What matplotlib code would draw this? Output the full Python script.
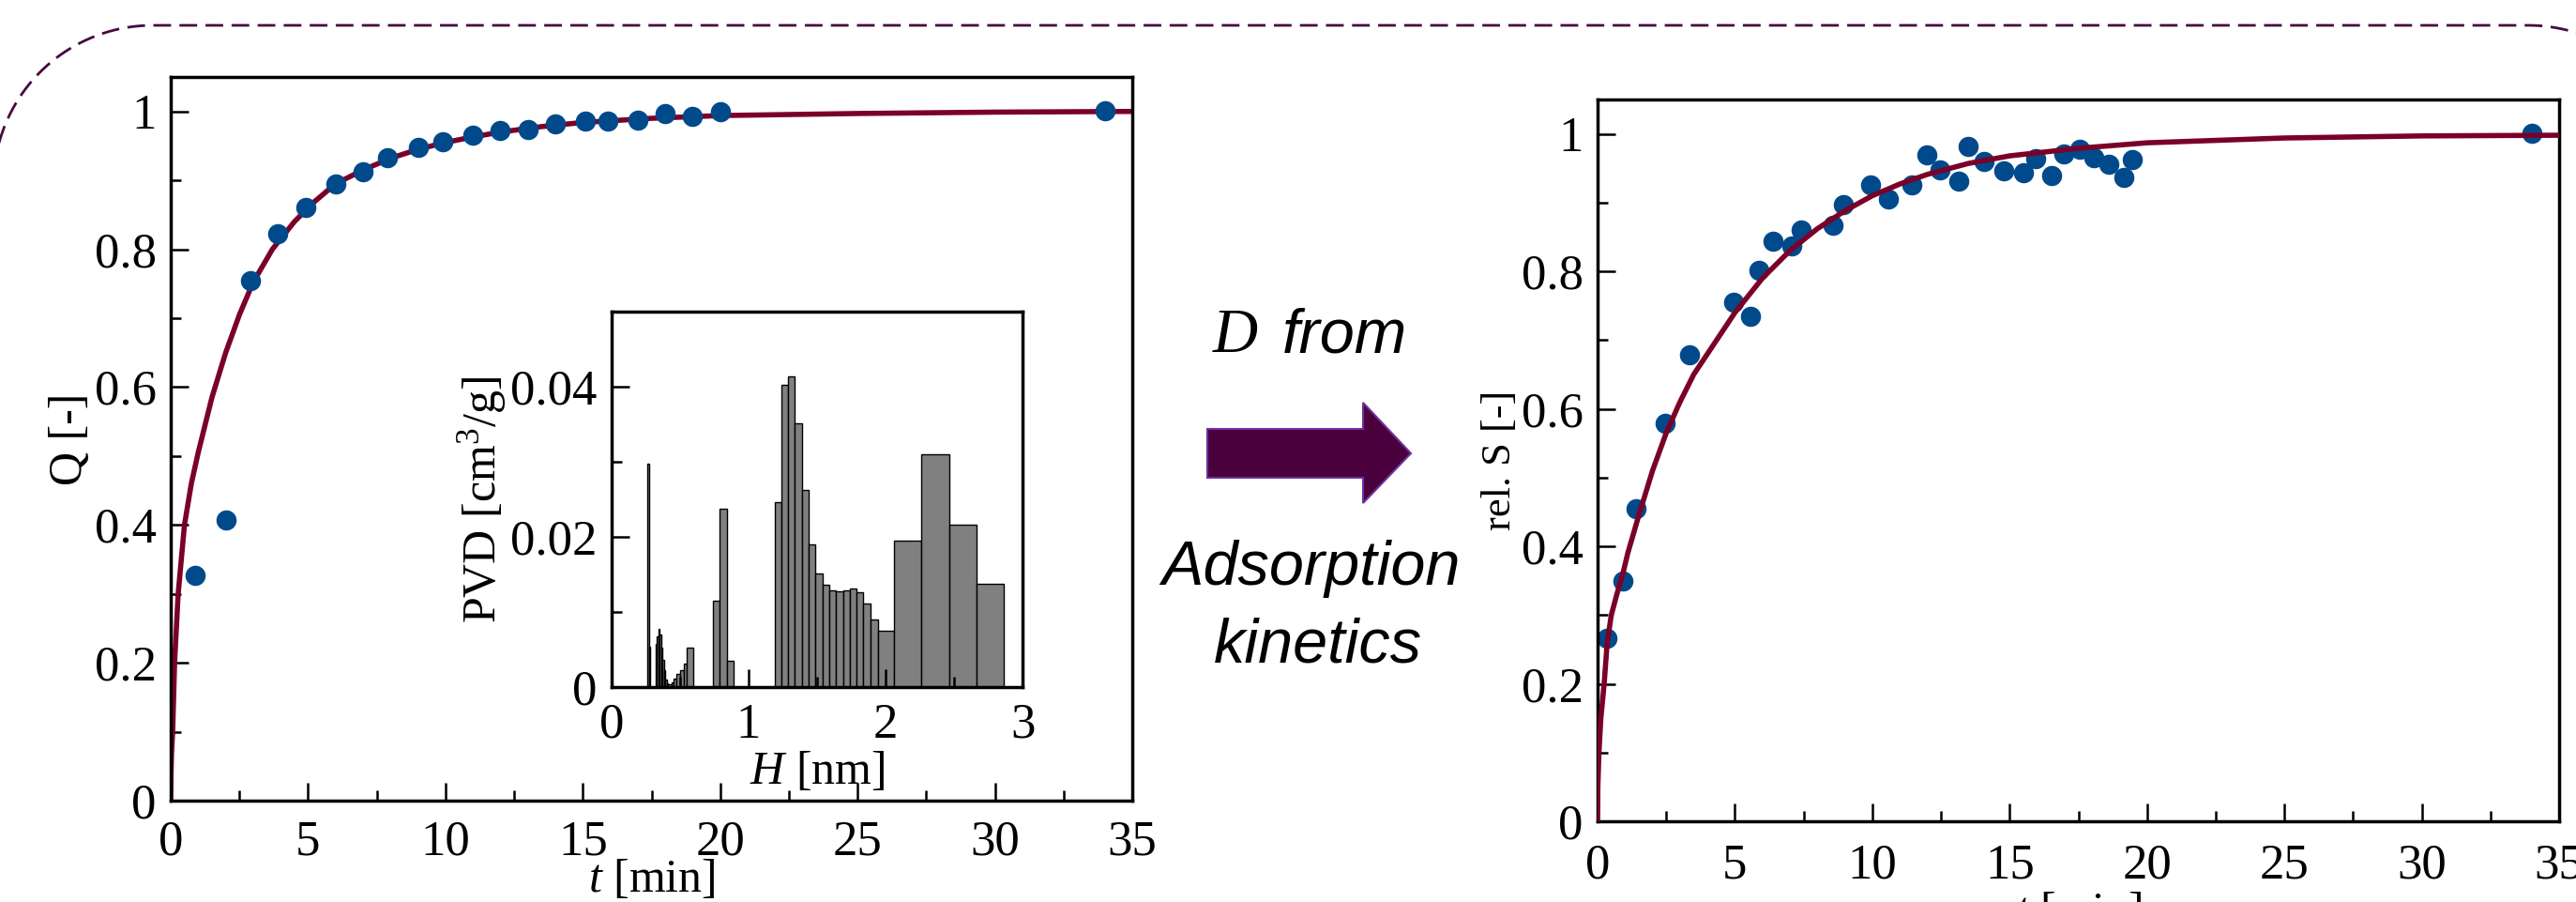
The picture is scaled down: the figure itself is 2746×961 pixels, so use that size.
import numpy as np
import matplotlib
matplotlib.use('Agg')
import matplotlib.pyplot as plt
from matplotlib.ticker import MultipleLocator, FormatStrFormatter
from matplotlib.patches import Polygon
from matplotlib.lines import Line2D

plt.rcParams['font.family'] = 'Liberation Serif'
plt.rcParams['mathtext.fontset'] = 'custom'
plt.rcParams['mathtext.rm'] = 'Liberation Serif'
plt.rcParams['mathtext.it'] = 'Liberation Serif:italic'

# uptake Q(t), measured
t_q = [0.9, 2.0, 2.9, 3.9, 4.9, 6.0, 7.0, 7.9, 9.0, 9.9, 11.0, 12.0, 13.0,
       14.0, 15.1, 15.9, 17.0, 18.0, 19.0, 20.0, 34.0]
q_meas = [0.327, 0.407, 0.754, 0.823, 0.861, 0.895, 0.913, 0.933, 0.948,
          0.956, 0.965, 0.973, 0.974, 0.982, 0.986, 0.986, 0.988, 0.997,
          0.993, 0.999, 1.001]
# fitted curve
t_qfit = [0, 0.01, 0.03, 0.07, 0.14, 0.27, 0.5, 0.75, 1.0, 1.5, 2.0, 2.5,
          3.0, 3.7, 4.5, 5.2, 6.0, 7.0, 8.0, 9.0, 10.0, 11.0, 12.0, 13.5,
          15.0, 17.5, 20.0, 25.0, 30.0, 35.0]
q_fit = [0, 0.04, 0.07, 0.10, 0.20, 0.30, 0.40, 0.46, 0.505, 0.585, 0.65,
         0.705, 0.752, 0.80, 0.84, 0.868, 0.895, 0.915, 0.932, 0.945, 0.955,
         0.963, 0.970, 0.978, 0.984, 0.990, 0.994, 0.997, 0.999, 1.0]

# pore volume distribution (inset)
pore_left = [0.263, 0.276, 0.322, 0.332, 0.342, 0.352, 0.362, 0.372, 0.382,
             0.392, 0.402, 0.414, 0.437, 0.453, 0.475, 0.500, 0.528, 0.550,
             0.739, 0.789, 0.841,
             1.189, 1.239, 1.289, 1.339, 1.389, 1.439, 1.489, 1.539, 1.589,
             1.639, 1.689, 1.739, 1.789, 1.839, 1.889, 1.942,
             2.063, 2.263, 2.463, 2.663]
pore_width = [0.012, 0.007, 0.01, 0.01, 0.01, 0.01, 0.01, 0.01, 0.01,
              0.01, 0.01, 0.023, 0.016, 0.022, 0.025, 0.028, 0.022, 0.046,
              0.05, 0.052, 0.051,
              0.05, 0.05, 0.05, 0.05, 0.05, 0.05, 0.05, 0.05, 0.05,
              0.05, 0.05, 0.05, 0.05, 0.05, 0.053, 0.121,
              0.2, 0.2, 0.2, 0.198]
pvd = [0.0297, 0.0054, 0.0058, 0.0067, 0.0077, 0.0070, 0.0052, 0.0036, 0.0022,
       0.0010, 0.0005, 0.0004, 0.0006, 0.0011, 0.0018, 0.0022, 0.0031, 0.0052,
       0.0115, 0.0238, 0.0035,
       0.0246, 0.0403, 0.0414, 0.0351, 0.0263, 0.0190, 0.0151, 0.0136, 0.0129,
       0.0127, 0.0129, 0.0131, 0.0126, 0.0111, 0.0090, 0.0075,
       0.0195, 0.0310, 0.0216, 0.0138]

# relative signal S(t), measured
t_s = [0.35, 0.92, 1.41, 2.47, 3.34, 4.96, 5.56, 5.89, 6.38, 7.08, 7.41,
       8.57, 8.93, 9.93, 10.58, 11.45, 11.99, 12.45, 13.16, 13.48, 14.08,
       14.79, 15.49, 15.93, 16.52, 16.96, 17.55, 18.07, 18.61, 19.15, 19.48,
       34.0]
s_meas = [0.266, 0.350, 0.454, 0.579, 0.679, 0.755, 0.734, 0.802, 0.844,
          0.837, 0.860, 0.867, 0.897, 0.926, 0.905, 0.926, 0.969, 0.947,
          0.931, 0.982, 0.960, 0.946, 0.944, 0.964, 0.940, 0.971, 0.977,
          0.965, 0.956, 0.936, 0.962, 1.001]
t_sfit = [0, 0.01, 0.05, 0.12, 0.24, 0.35, 0.5, 0.7, 0.92, 1.1, 1.5, 2.0,
          2.5, 3.0, 3.5, 4.0, 5.0, 6.0, 7.0, 8.0, 9.0, 10.0, 11.0, 12.0,
          13.5, 15.0, 17.5, 20.0, 25.0, 30.0, 35.0]
s_fit = [0, 0.05, 0.10, 0.15, 0.20, 0.26, 0.30, 0.33, 0.36, 0.39, 0.445,
         0.51, 0.565, 0.61, 0.65, 0.68, 0.74, 0.79, 0.83, 0.862, 0.888,
         0.91, 0.927, 0.941, 0.957, 0.968, 0.979, 0.987, 0.994, 0.997, 0.998]

W, H = 2746, 961
fig = plt.figure(figsize=(W / 100, H / 100), dpi=100)


def box(x0, y0, x1, y1):
    # pixel box (origin top left) -> figure fraction
    return [x0 / W, 1 - y1 / H, (x1 - x0) / W, (y1 - y0) / H]


TICK_FS = 38
LABEL_FS = 36


def style(ax, xpad=17):
    for s in ax.spines.values():
        s.set_linewidth(2.5)
    ax.tick_params(which='both', direction='in', top=False, right=False,
                   width=1.8, labelsize=TICK_FS)
    ax.tick_params(which='major', length=14)
    ax.tick_params(which='minor', length=8)
    ax.tick_params(axis='y', pad=11)
    ax.tick_params(axis='x', pad=xpad)


blue = '#004a8c'
red = '#7b0028'

# left panel
ax1 = fig.add_axes(box(182, 82, 1207, 853))
ax1.plot(t_qfit, q_fit, color=red, lw=4, zorder=2)
ax1.plot(t_q, q_meas, 'o', color=blue, ms=15.5, mec='none', zorder=3)
ax1.set_xlim(0, 35)
ax1.set_ylim(0, 1.05)
ax1.xaxis.set_major_locator(MultipleLocator(5))
ax1.xaxis.set_minor_locator(MultipleLocator(2.5))
ax1.yaxis.set_major_locator(MultipleLocator(0.2))
ax1.yaxis.set_minor_locator(MultipleLocator(0.1))
ax1.yaxis.set_major_formatter(FormatStrFormatter('%g'))
style(ax1, xpad=15)
ax1.set_xlabel(r'$t$ [min]', fontsize=LABEL_FS, labelpad=-5)
ax1.set_ylabel('Q [-]', fontsize=LABEL_FS, labelpad=2)

# inset
axi = fig.add_axes(box(652, 332, 1090, 732))
axi.bar(pore_left, pvd, width=pore_width, align='edge', color='#808080',
        edgecolor='black', linewidth=1.0)
axi.set_xlim(0, 3)
axi.set_ylim(0, 0.05)
axi.xaxis.set_major_locator(MultipleLocator(1))
axi.xaxis.set_minor_locator(MultipleLocator(0.5))
axi.yaxis.set_major_locator(MultipleLocator(0.02))
axi.yaxis.set_minor_locator(MultipleLocator(0.01))
axi.yaxis.set_major_formatter(FormatStrFormatter('%g'))
style(axi, xpad=12)
axi.set_xlabel(r'$H$ [nm]', fontsize=LABEL_FS, labelpad=2)
axi.set_ylabel(r'PVD [cm$^3$/g]', fontsize=LABEL_FS, labelpad=2)

# right panel
ax2 = fig.add_axes(box(1703, 106, 2728, 875))
ax2.plot(t_s, s_meas, 'o', color=blue, ms=15.5, mec='none', zorder=2)
ax2.plot(t_sfit, s_fit, color=red, lw=4, zorder=3)
ax2.set_xlim(0, 35)
ax2.set_ylim(0, 1.05)
ax2.xaxis.set_major_locator(MultipleLocator(5))
ax2.xaxis.set_minor_locator(MultipleLocator(2.5))
ax2.yaxis.set_major_locator(MultipleLocator(0.2))
ax2.yaxis.set_minor_locator(MultipleLocator(0.1))
ax2.yaxis.set_major_formatter(FormatStrFormatter('%g'))
style(ax2)
ax2.set_xlabel(r'$t$ [min]', fontsize=LABEL_FS, labelpad=2)
ax2.set_ylabel('rel. S [-]', fontsize=32, labelpad=2)

# middle: arrow and text
arrow_px = [(1287, 457), (1453, 457), (1453, 429), (1504, 483),
            (1453, 536), (1453, 509), (1287, 509)]
arrow = Polygon([(x / W, 1 - y / H) for x, y in arrow_px], closed=True,
                facecolor='#4a003c', edgecolor='#7030a0', lw=1.5,
                transform=fig.transFigure)
fig.add_artist(arrow)

fig.text(1293 / W, 1 - 375 / H, 'D', fontsize=48, family='Liberation Serif',
         style='italic', ha='left', va='baseline')
fig.text(1367 / W, 1 - 375 / H, 'from', fontsize=48, family='Liberation Sans',
         style='italic', ha='left', va='baseline')
fig.text(1397 / W, 1 - 623 / H, 'Adsorption', fontsize=48,
         family='Liberation Sans', style='italic', ha='center', va='baseline')
fig.text(1405 / W, 1 - 705 / H, 'kinetics', fontsize=48,
         family='Liberation Sans', style='italic', ha='center', va='baseline')

# dashed frame with rounded corners: only its top part is on the canvas
r = 170
top = H - 27
a_left = np.linspace(np.pi, np.pi / 2, 60)
a_right = np.linspace(np.pi / 2, 0, 60)
fx = np.concatenate([163 + r * np.cos(a_left), 2695 + r * np.cos(a_right)])
fy = np.concatenate([top - r + r * np.sin(a_left),
                     top - r + r * np.sin(a_right)])
frame = Line2D(fx / 100, fy / 100, transform=fig.dpi_scale_trans,
               color='#46093f', lw=2, dashes=(6.8, 3.2))
fig.add_artist(frame)

fig.savefig('out.png', dpi=100)
